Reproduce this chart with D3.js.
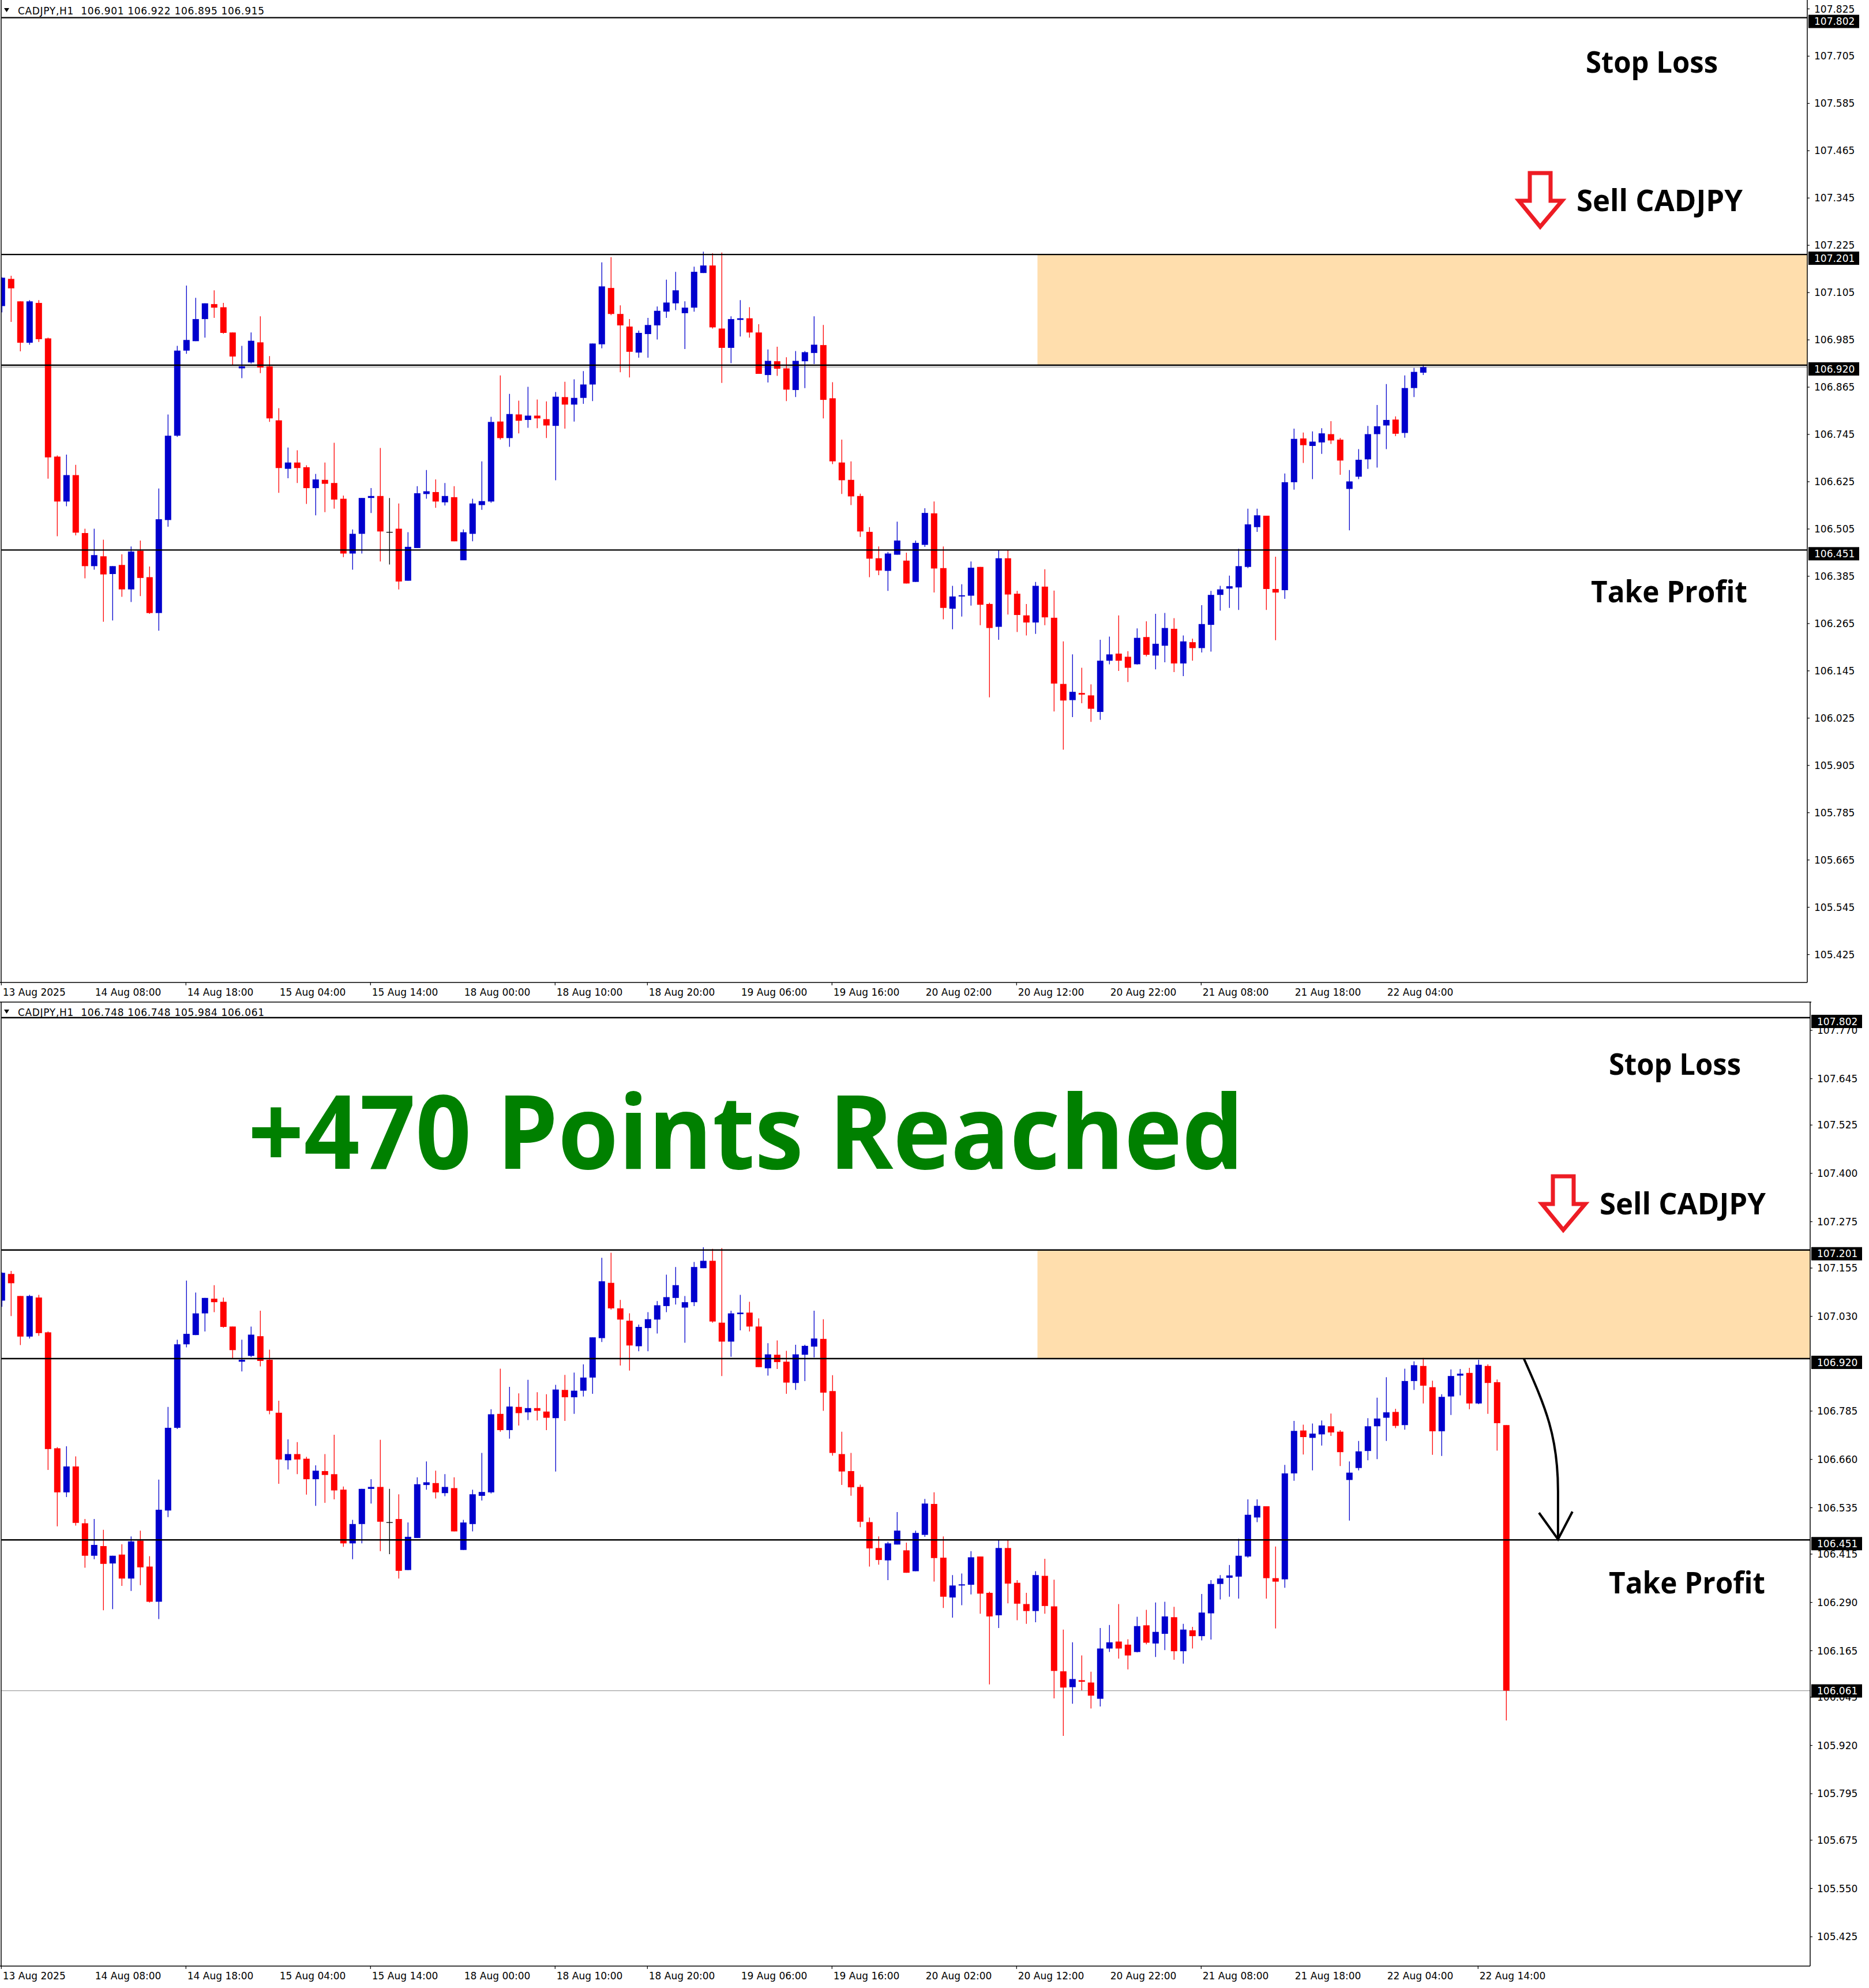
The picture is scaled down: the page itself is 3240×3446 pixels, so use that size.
<!DOCTYPE html>
<html><head><meta charset="utf-8">
<script src="https://cdn.jsdelivr.net/npm/d3@7"></script>
<style>html,body{margin:0;padding:0;background:#fff;} svg{display:block;}</style>
</head><body>
<svg id="c" width="3240" height="3446"></svg>
<script>
// ---------------- DATA ----------------
const symbol = "CADJPY", timeframe = "H1";
const openP = [
107.070,107.139,107.082,106.977,107.078,106.988,106.688,106.574,106.641,106.494,
106.410,106.435,106.390,106.413,106.351,106.449,106.382,106.291,106.527,106.741,
106.957,106.981,107.037,107.075,107.067,107.003,106.912,106.927,106.978,106.917,
106.780,106.657,106.673,106.661,106.608,106.629,106.621,106.581,106.442,106.492,
106.583,106.588,106.496,106.505,106.373,106.456,106.593,106.598,106.572,106.585,
106.425,106.492,106.565,106.574,106.777,106.735,106.795,106.781,106.792,106.783,
106.766,106.839,106.820,106.837,106.871,106.973,107.116,107.050,107.018,106.952,
106.999,107.021,107.056,107.077,107.052,107.066,107.154,107.173,107.013,106.964,
107.035,107.039,107.003,106.895,106.930,106.912,106.857,106.930,106.951,106.971,
106.836,106.673,106.629,106.588,106.497,106.430,106.398,106.439,106.424,106.370,
106.464,106.544,106.405,106.302,106.334,106.335,106.408,106.314,106.256,106.430,
106.340,106.285,106.267,106.358,106.279,106.111,106.070,106.088,106.082,106.040,
106.170,106.188,106.180,106.161,106.230,106.183,106.208,106.251,106.163,106.217,
106.202,106.261,106.337,106.353,106.356,106.408,106.509,106.538,106.352,106.349,
106.623,106.734,106.715,106.724,106.745,106.731,106.606,106.637,106.681,106.745,
106.767,106.782,106.748,106.862,106.901,106.846,106.732,106.822,106.876,106.883,
106.804,106.901,106.859,106.748];
const highP = [
107.143,107.147,107.082,107.085,107.085,106.990,106.691,106.693,106.667,106.505,
106.505,106.477,106.410,106.440,106.460,106.475,106.409,106.607,106.795,106.969,
107.122,107.091,107.077,107.110,107.078,107.003,106.969,107.003,107.044,106.943,
106.811,106.711,106.704,106.666,106.644,106.673,106.723,106.589,106.503,106.583,
106.608,106.710,106.583,106.569,106.496,106.613,106.654,106.630,106.621,106.613,
106.503,106.581,106.676,106.789,106.894,106.847,106.830,106.865,106.833,106.828,
106.852,106.878,106.884,106.905,106.975,107.181,107.194,107.072,107.037,107.008,
107.040,107.069,107.137,107.157,107.082,107.170,107.208,107.204,107.206,107.044,
107.085,107.067,107.024,106.960,106.967,106.940,106.956,106.956,107.044,107.022,
106.877,106.731,106.676,106.594,106.509,106.460,106.446,106.523,106.444,106.475,
106.557,106.574,106.460,106.360,106.364,106.422,106.408,106.317,106.450,106.450,
106.347,106.314,106.370,106.402,106.348,106.219,106.186,106.152,106.110,106.223,
106.231,106.285,106.194,106.252,106.270,106.289,106.291,106.278,106.234,106.226,
106.311,106.347,106.360,106.386,106.454,106.556,106.556,106.538,106.434,106.645,
106.759,106.749,106.752,106.760,106.778,106.735,106.654,106.707,106.766,106.819,
106.872,106.790,106.894,106.913,106.922,106.863,106.828,106.892,106.893,106.896,
106.917,106.905,106.866,106.748];
const lowP = [
107.054,107.030,106.955,106.972,106.979,106.632,106.486,106.562,106.488,106.379,
106.401,106.269,106.272,106.332,106.319,106.334,106.289,106.246,106.510,106.738,
106.949,106.981,106.990,107.040,107.000,106.921,106.887,106.924,106.900,106.776,
106.596,106.633,106.621,106.568,106.539,106.547,106.556,106.433,106.401,106.442,
106.545,106.422,106.414,106.351,106.373,106.456,106.581,106.558,106.564,106.473,
106.425,106.473,106.553,106.571,106.731,106.713,106.747,106.761,106.760,106.735,
106.628,106.759,106.777,106.822,106.829,106.963,107.047,106.902,106.889,106.939,
106.939,106.985,107.040,107.060,106.961,107.056,107.154,107.013,106.875,106.925,
106.993,106.990,106.898,106.876,106.893,106.829,106.839,106.862,106.923,106.785,
106.669,106.593,106.565,106.484,106.382,106.387,106.347,106.439,106.366,106.370,
106.459,106.343,106.275,106.250,106.282,106.310,106.260,106.077,106.223,106.287,
106.243,106.234,106.238,106.260,106.041,105.944,106.027,106.062,106.015,106.020,
106.161,106.144,106.116,106.160,106.181,106.148,106.166,106.141,106.131,106.170,
106.191,106.193,106.297,106.304,106.299,106.405,106.497,106.299,106.222,106.327,
106.604,106.672,106.631,106.695,106.720,106.642,106.501,106.631,106.657,106.660,
106.707,106.740,106.736,106.839,106.804,106.671,106.668,106.774,106.825,106.789,
106.802,106.777,106.682,105.984];
const closeP = [
107.142,107.115,106.977,107.082,106.986,106.686,106.574,106.641,106.495,106.410,
106.438,106.389,106.410,106.351,106.447,106.380,106.291,106.529,106.741,106.957,
106.984,107.037,107.077,107.066,107.002,106.942,106.917,106.982,106.914,106.785,
106.659,106.673,106.659,106.608,106.630,106.619,106.579,106.442,106.492,106.583,
106.588,106.498,106.496,106.371,106.459,106.595,106.600,106.574,106.588,106.473,
106.496,106.569,106.575,106.776,106.735,106.796,106.779,106.792,106.785,106.767,
106.840,106.820,106.837,106.871,106.975,107.120,107.050,107.021,106.954,107.002,
107.022,107.058,107.079,107.110,107.066,107.157,107.173,107.016,106.964,107.037,
107.039,107.003,106.898,106.931,106.911,106.858,106.931,106.953,106.972,106.832,
106.676,106.628,106.587,106.498,106.429,106.399,106.442,106.475,106.366,106.469,
106.545,106.404,106.304,106.333,106.336,106.406,106.312,106.253,106.430,106.338,
106.286,106.267,106.360,106.280,106.112,106.069,106.091,106.084,106.048,106.170,
106.186,106.170,106.152,106.228,106.185,106.213,106.253,106.163,106.219,106.202,
106.263,106.337,106.351,106.359,106.410,106.516,106.539,106.352,106.343,106.623,
106.733,106.717,106.726,106.747,106.729,106.678,106.625,106.680,106.745,106.765,
106.781,106.746,106.862,106.903,106.850,106.732,106.821,106.875,106.881,106.804,
106.904,106.857,106.753,106.061];

// upper snapshot: bars 0..153 complete, bar 154 still forming (O,H,L,C)
const topBarCount = 155;
const topLiveBar = [106.901, 106.922, 106.895, 106.915];

// levels
const stopLoss = 107.802, zoneHigh = 107.201, zoneLow = 106.920, takeProfit = 106.451;
const zoneStartBar = 112.2;

// axis ticks
const topPriceTicks = [107.825,107.705,107.585,107.465,107.345,107.225,107.105,106.985,106.865,106.745,106.625,106.505,106.385,106.265,106.145,106.025,105.905,105.785,105.665,105.545,105.425];
const bottomPriceTicks = [107.770,107.645,107.525,107.400,107.275,107.155,107.030,106.785,106.660,106.535,106.415,106.290,106.165,106.045,105.920,105.795,105.675,105.550,105.425];
const timeLabelBars = [0,10,20,30,40,50,60,70,80,90,100,110,120,130,140,150,160];
const timeLabels = ["13 Aug 2025","14 Aug 08:00","14 Aug 18:00","15 Aug 04:00","15 Aug 14:00","18 Aug 00:00","18 Aug 10:00","18 Aug 20:00","19 Aug 06:00","19 Aug 16:00","20 Aug 02:00","20 Aug 12:00","20 Aug 22:00","21 Aug 08:00","21 Aug 18:00","22 Aug 04:00","22 Aug 14:00"];
const timeTickBars = [0,20,40,60,70,90,110,130,160];
const resultText = "+470 Points Reached";

// ---------------- DRAW ----------------
const svg = d3.select('#c');
const BULL = "#0000CD", BEAR = "#FF0000", DOJI = "#000000";
const x = d3.scaleLinear().domain([0, 1]).range([3.3, 19.3]);
const fmt = d3.format(".3f");
const AX_FONT = "DejaVu Sans";
const NOTE_FONT = "'Open Sans', 'DejaVu Sans', sans-serif";

function makeBars(n, live) {
  const out = [];
  for (let i = 0; i < n; i++) out.push({i, o: openP[i], h: highP[i], l: lowP[i], c: closeP[i]});
  if (live) { const b = out[out.length - 1]; b.o = live[0]; b.h = live[1]; b.l = live[2]; b.c = live[3]; }
  return out;
}

const panels = [
  {id: 'top', top: 0, bottom: 1703, right: 3133, dom: [105.425, 107.825], rng: [1654.1, 14.9],
   ticks: topPriceTicks, bars: makeBars(topBarCount, topLiveBar), bid: topLiveBar[3],
   labelBars: timeLabelBars.filter(b => b <= 150), labelBase: 1726, headerBase: 25,
   sl: [2749, 126], sell: [2733, 366], arrowOff: [0, 0], tp: [2758, 1044], boxX: 3135, labelX: 3145},
  {id: 'bot', top: 1737, bottom: 3408, right: 3138, dom: [105.425, 107.645], rng: [3356.7, 1869.25],
   ticks: bottomPriceTicks, bars: makeBars(openP.length, null), bid: closeP[closeP.length - 1],
   labelBars: timeLabelBars, labelBase: 3431, headerBase: 1761,
   sl: [2789, 1863], sell: [2773, 2105], arrowOff: [40, 1739], tp: [2789, 2762], boxX: 3140, labelX: 3150}
];

panels.forEach(P => {
  const y = d3.scaleLinear().domain(P.dom).range(P.rng);
  const g = svg.append('g');
  const clipId = 'clip-' + P.id;
  svg.append('clipPath').attr('id', clipId).append('rect')
    .attr('x', 2.5).attr('y', P.top).attr('width', P.right - 2.5).attr('height', P.bottom - P.top);
  const plot = g.append('g').attr('clip-path', `url(#${clipId})`);

  // zone
  plot.append('rect').attr('x', x(zoneStartBar)).attr('y', y(zoneHigh))
    .attr('width', P.right - x(zoneStartBar)).attr('height', y(zoneLow) - y(zoneHigh))
    .attr('fill', '#FFDEAD');

  // bid line
  plot.append('line').attr('x1', 0).attr('x2', P.right).attr('y1', y(P.bid)).attr('y2', y(P.bid))
    .attr('stroke', '#A0A0A0').attr('stroke-width', 1.2);

  // candles
  const cg = plot.append('g');
  P.bars.forEach(b => {
    const col = b.c > b.o ? BULL : (b.c < b.o ? BEAR : DOJI);
    const cx = x(b.i);
    cg.append('line').attr('x1', cx).attr('x2', cx).attr('y1', y(b.h)).attr('y2', y(b.l))
      .attr('stroke', col).attr('stroke-width', 1.3);
    if (col === DOJI) {
      cg.append('line').attr('x1', cx - 5.5).attr('x2', cx + 5.5).attr('y1', y(b.c)).attr('y2', y(b.c))
        .attr('stroke', col).attr('stroke-width', 1.3);
    } else {
      const yt = y(Math.max(b.o, b.c)), yb = y(Math.min(b.o, b.c));
      const hh = Math.max(2, yb - yt);
      cg.append('rect').attr('x', cx - 5.5).attr('y', yt).attr('width', 11).attr('height', hh)
        .attr('fill', col);
    }
  });

  // level lines
  [stopLoss, zoneHigh, zoneLow, takeProfit].forEach(v => {
    plot.append('line').attr('x1', 0).attr('x2', P.right).attr('y1', y(v)).attr('y2', y(v))
      .attr('stroke', '#000').attr('stroke-width', 2.4);
  });

  // frame
  const fr = g.append('g').attr('stroke', '#000').attr('stroke-width', 1.5).attr('fill', 'none');
  fr.append('line').attr('x1', 2).attr('x2', 2).attr('y1', P.top).attr('y2', P.bottom);
  fr.append('line').attr('x1', 0).attr('x2', P.right).attr('y1', P.bottom).attr('y2', P.bottom);
  fr.append('line').attr('x1', P.right).attr('x2', P.right).attr('y1', P.top).attr('y2', P.bottom);
  if (P.top > 0) fr.append('line').attr('x1', 0).attr('x2', P.right + 2).attr('y1', P.top).attr('y2', P.top);

  // price axis
  const ax = d3.axisRight(y).tickValues(P.ticks).tickFormat(fmt).tickSize(4).tickPadding(P.labelX - P.right - 4);
  const axg = g.append('g').attr('transform', `translate(${P.right},0)`).call(ax);
  axg.select('.domain').remove();
  axg.selectAll('line').attr('stroke', '#000').attr('stroke-width', 1.2);
  axg.selectAll('text').attr('font-family', AX_FONT).attr('font-size', 17).attr('fill', '#000').attr('dy', '0.36em');

  // price boxes
  const boxes = [stopLoss, zoneHigh, zoneLow, takeProfit].map(v => ({v, off: 5}));
  if (P.id === 'bot') boxes.push({v: P.bid, off: 11});
  boxes.forEach(bx => {
    g.append('rect').attr('x', P.boxX).attr('y', y(bx.v) - bx.off).attr('width', 88).attr('height', 23).attr('fill', '#000');
    g.append('text').attr('x', P.labelX).attr('y', y(bx.v) - bx.off + 17.5).attr('font-family', AX_FONT)
      .attr('font-size', 17).attr('fill', '#fff').text(fmt(bx.v));
  });

  // time axis
  const tx = d3.axisBottom(x).tickValues(P.labelBars).tickSize(0)
    .tickFormat(d => timeLabels[timeLabelBars.indexOf(d)]);
  const txg = g.append('g').attr('transform', `translate(0,${P.bottom})`).call(tx);
  txg.select('.domain').remove();
  txg.selectAll('text').attr('font-family', AX_FONT).attr('font-size', 17).attr('fill', '#000')
    .attr('text-anchor', 'start').attr('x', 1).attr('dy', 0).attr('y', P.labelBase - P.bottom);
  timeTickBars.filter(b => P.labelBars.includes(b)).forEach(b => {
    g.append('line').attr('x1', x(b) - 1).attr('x2', x(b) - 1).attr('y1', P.bottom).attr('y2', P.bottom + 5)
      .attr('stroke', '#000').attr('stroke-width', 1.2);
  });

  // header
  const last = P.bars[P.bars.length - 1];
  const hb = P.headerBase;
  g.append('path').attr('d', `M7,${hb - 11}L16,${hb - 11}L11.5,${hb - 4}Z`).attr('fill', '#000');
  g.append('text').attr('x', 31).attr('y', hb).attr('font-family', AX_FONT).attr('font-size', 17)
    .attr('fill', '#000').style('white-space', 'pre')
    .attr('textLength', 427).attr('lengthAdjust', 'spacing')
    .text(`${symbol},${timeframe}  ${fmt(last.o)} ${fmt(last.h)} ${fmt(last.l)} ${fmt(last.c)}`);

  // annotations
  const note = (t, pos, w) => g.append('text').attr('x', pos[0]).attr('y', pos[1])
    .attr('font-family', NOTE_FONT).attr('font-weight', 700).attr('font-size', 52).attr('fill', '#000')
    .attr('textLength', w).attr('lengthAdjust', 'spacingAndGlyphs').text(t);
  note('Stop Loss', P.sl, 229);
  note('Sell ' + symbol, P.sell, 288);
  note('Take Profit', P.tp, 271);

  const [ox, oy] = P.arrowOff;
  const ap = [[2652,300],[2688,300],[2688,348],[2708,348],[2670,393],[2633,348],[2652,348]]
    .map(p => [p[0] + ox, p[1] + oy]);
  g.append('path').attr('d', 'M' + ap.map(p => p.join(',')).join('L') + 'Z')
    .attr('fill', '#fff').attr('stroke', '#ED1C24').attr('stroke-width', 7).attr('stroke-linejoin', 'miter');

  if (P.id === 'bot') {
    g.append('text').attr('x', 430).attr('y', 2026).attr('font-family', NOTE_FONT).attr('font-weight', 700)
      .attr('font-size', 178).attr('fill', '#008000').attr('textLength', 1726).attr('lengthAdjust', 'spacingAndGlyphs')
      .text(resultText);
    const sx = x(164.9), sy = y(zoneLow), ex = x(168.6), ey = y(takeProfit);
    g.append('path').attr('d', `M${sx},${sy} C${sx + 38},${sy + 85} ${ex},${sy + 135} ${ex},${sy + 230} L${ex},${ey - 2}`)
      .attr('fill', 'none').attr('stroke', '#000').attr('stroke-width', 4);
    g.append('path').attr('d', `M${ex - 33},${ey - 47} L${ex},${ey - 1} L${ex + 25},${ey - 49}`)
      .attr('fill', 'none').attr('stroke', '#000').attr('stroke-width', 4).attr('stroke-linejoin', 'miter');
  }
});
</script>
</body></html>
